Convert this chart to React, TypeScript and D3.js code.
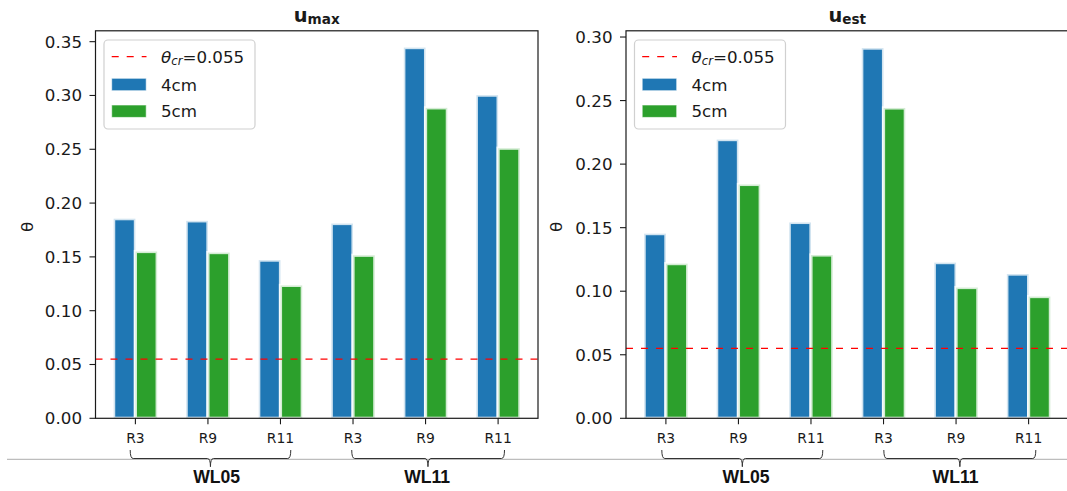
import React from 'react';
import * as d3 from 'd3';

// Bar categories (runs) and the water-level groups they belong to
const CATEGORIES = ['R3', 'R9', 'R11', 'R3', 'R9', 'R11'];
const GROUPS = ['WL05', 'WL11'];
const SERIES = ['4cm', '5cm'];

// Shields parameter θ computed from the maximum velocity
const UMAX_4CM = [0.1855, 0.1835, 0.147, 0.181, 0.3445, 0.3003];
const UMAX_5CM = [0.155, 0.154, 0.1235, 0.1515, 0.2885, 0.251];

// Shields parameter θ computed from the estimated velocity
const UEST_4CM = [0.1453, 0.2193, 0.1541, 0.2913, 0.1225, 0.1135];
const UEST_5CM = [0.1217, 0.184, 0.1285, 0.2442, 0.1029, 0.0958];

// Critical Shields parameter
const THETA_CR = 0.055;

const UMAX_TICKS = [0, 0.05, 0.1, 0.15, 0.2, 0.25, 0.3, 0.35];
const UEST_TICKS = [0, 0.05, 0.1, 0.15, 0.2, 0.25, 0.3];

const COLORS = ['#1f77b4', '#2ca02c'];
const FONT = '"DejaVu Sans", sans-serif';
const TEXT = '#1a1a1a';

const W = 1067;
const H = 491;
const PLOT_TOP = 30.8;
const PLOT_BOTTOM = 418.3;

type Bracket = { from: number; to: number; dl: number; dr: number; dc: number; labelDx: number };

type PanelProps = {
  sub: string;
  series: number[][];
  ticks: number[];
  yMax: number;
  x0: number;
  x1: number;
  yLabelX: number;
  brackets: Bracket[];
};

function Panel({ sub, series, ticks, yMax, x0, x1, yLabelX, brackets }: PanelProps) {
  const x = d3
    .scaleBand<number>()
    .domain(d3.range(CATEGORIES.length))
    .range([x0, x1])
    .paddingInner(0)
    .paddingOuter(0.05);
  const y = d3.scaleLinear().domain([0, yMax]).range([PLOT_BOTTOM, PLOT_TOP]);
  const step = x.step();
  const center = (i: number) => (x(i) as number) + x.bandwidth() / 2;
  const barW = 0.3 * step;
  const offsets = [-0.15 * step, 0.15 * step];

  const lx = x0 + 8.5;
  const ly = PLOT_TOP + 9.2;
  const braceY0 = 450;
  const braceY1 = 458.5;
  const braceTip = 466.7;

  const bracePath = (a: number, b: number, c: number) => {
    const p = d3.path();
    p.moveTo(a, braceY0);
    p.quadraticCurveTo(a, braceY1, a + 3, braceY1);
    p.lineTo(c - 3, braceY1);
    p.quadraticCurveTo(c, braceY1, c, braceTip);
    p.quadraticCurveTo(c, braceY1, c + 3, braceY1);
    p.lineTo(b - 3, braceY1);
    p.quadraticCurveTo(b, braceY1, b, braceY0);
    return p.toString();
  };

  return (
    <g>
      <defs>
        <clipPath id={`clip-${sub}`}>
          <rect x={x0} y={PLOT_TOP} width={x1 - x0} height={PLOT_BOTTOM - PLOT_TOP} />
        </clipPath>
      </defs>

      {/* title */}
      <text x={(x0 + x1) / 2} y={21.5} textAnchor="middle" fontFamily={FONT} fontWeight="bold" fill={TEXT}>
        <tspan fontSize={19.4}>u</tspan>
        <tspan fontSize={13.6} dy={2.3}>{sub}</tspan>
      </text>

      {/* bars */}
      <g clipPath={`url(#clip-${sub})`}>
        {series.map((vals, s) =>
          vals.map((v, i) => (
            <rect
              key={`${s}-${i}`}
              x={center(i) + offsets[s] - barW / 2}
              y={y(v)}
              width={barW}
              height={PLOT_BOTTOM - y(v)}
              fill={COLORS[s]}
              stroke="#ffffff"
              strokeOpacity={0.8}
              strokeWidth={3.2}
            />
          ))
        )}
        {/* critical threshold */}
        <line
          x1={x0}
          x2={x1}
          y1={y(THETA_CR)}
          y2={y(THETA_CR)}
          stroke="#ff0000"
          strokeWidth={1.3}
          strokeDasharray="7 8"
        />
      </g>

      {/* spines */}
      <rect x={x0} y={PLOT_TOP} width={x1 - x0} height={PLOT_BOTTOM - PLOT_TOP} fill="none" stroke="#1a1a1a" strokeWidth={1.2} />

      {/* y axis */}
      {ticks.map((t) => (
        <g key={t}>
          <line x1={x0 - 6} x2={x0} y1={y(t)} y2={y(t)} stroke="#1a1a1a" strokeWidth={1.1} />
          <text
            x={x0 - 13.5}
            y={y(t)}
            textAnchor="end"
            dominantBaseline="central"
            fontFamily={FONT}
            fontSize={16.7}
            fill={TEXT}
          >
            {t.toFixed(2)}
          </text>
        </g>
      ))}
      <text
        transform={`translate(${yLabelX},227) rotate(-90)`}
        textAnchor="middle"
        dominantBaseline="central"
        fontFamily={FONT}
        fontSize={16.7}
        fill={TEXT}
      >
        θ
      </text>

      {/* x axis */}
      {CATEGORIES.map((c, i) => (
        <g key={i}>
          <line x1={center(i)} x2={center(i)} y1={PLOT_BOTTOM} y2={PLOT_BOTTOM + 6} stroke="#1a1a1a" strokeWidth={1.1} />
          <text
            x={center(i)}
            y={438}
            textAnchor="middle"
            dominantBaseline="central"
            fontFamily={FONT}
            fontSize={13.9}
            fill={TEXT}
          >
            {c}
          </text>
        </g>
      ))}

      {/* group braces */}
      {brackets.map((b, g) => (
        <g key={g}>
          <path
            d={bracePath(center(b.from) + b.dl, center(b.to) + b.dr, center((b.from + b.to) / 2) + b.dc)}
            fill="none"
            stroke="#333333"
            strokeWidth={1}
          />
          <text
            x={center((b.from + b.to) / 2) + b.labelDx}
            y={483}
            textAnchor="middle"
            fontFamily='"Liberation Sans", Arial, sans-serif'
            fontWeight="bold"
            fontSize={17.6}
            fill="#111111"
          >
            {GROUPS[g]}
          </text>
        </g>
      ))}

      {/* legend */}
      <g>
        <rect x={lx} y={ly} width={151} height={89} rx={4} fill="#ffffff" fillOpacity={0.8} stroke="#d0d0d0" strokeWidth={1.2} />
        <line x1={lx + 7.7} x2={lx + 42.5} y1={ly + 16.7} y2={ly + 16.7} stroke="#ff0000" strokeWidth={1.3} strokeDasharray="7 8" />
        <text x={lx + 57} y={ly + 16.5} dominantBaseline="central" fontFamily={FONT} fontSize={16.7} fill={TEXT}>
          <tspan fontStyle="italic">θ</tspan>
          <tspan fontStyle="italic" fontSize={11.7} dy={4}>cr</tspan>
          <tspan dy={-4}>=0.055</tspan>
        </text>
        {SERIES.map((s, k) => (
          <g key={s}>
            <rect
              x={lx + 7.7}
              y={ly + 38.3 + k * 26.7}
              width={34.5}
              height={12.4}
              fill={COLORS[k]}
              stroke="#ffffff"
              strokeOpacity={0.6}
              strokeWidth={1}
            />
            <text x={lx + 57} y={ly + 44.5 + k * 26.7} dominantBaseline="central" fontFamily={FONT} fontSize={16.7} fill={TEXT}>
              {s}
            </text>
          </g>
        ))}
      </g>
    </g>
  );
}

export default function App() {
  return (
    <svg
      width={W}
      height={H}
      viewBox={`0 0 ${W} ${H}`}
      style={{ position: 'absolute', left: 0, top: 0, background: '#ffffff' }}
    >
      <rect width={W} height={H} fill="#ffffff" />
      <line x1={7} x2={W} y1={459.3} y2={459.3} stroke="#bdbdbd" strokeWidth={1.3} />
      <Panel
        sub="max"
        series={[UMAX_4CM, UMAX_5CM]}
        ticks={UMAX_TICKS}
        yMax={0.3601}
        x0={95.5}
        x1={538}
        yLabelX={26.7}
        brackets={[
          { from: 0, to: 2, dl: -5.2, dr: 10.3, dc: 2.5, labelDx: 8.7 },
          { from: 3, to: 5, dl: -1.3, dr: 6.4, dc: 2.4, labelDx: 1.6 },
        ]}
      />
      <Panel
        sub="est"
        series={[UEST_4CM, UEST_5CM]}
        ticks={UEST_TICKS}
        yMax={0.3049}
        x0={626}
        x1={1068.5}
        yLabelX={556.3}
        brackets={[
          { from: 0, to: 2, dl: -4.1, dr: 11.8, dc: 3.9, labelDx: 7.6 },
          { from: 3, to: 5, dl: 0.3, dr: 7.2, dc: 3.8, labelDx: -0.5 },
        ]}
      />
    </svg>
  );
}
